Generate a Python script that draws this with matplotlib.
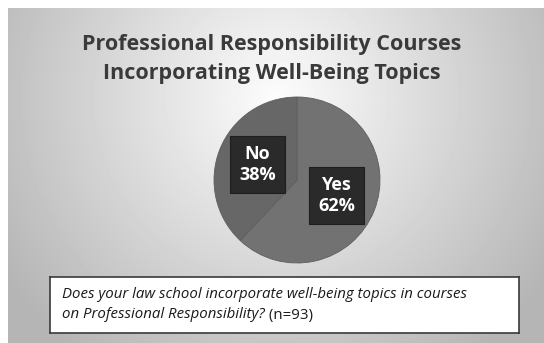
import matplotlib.pyplot as plt
import numpy as np

# survey answers
answers = ["Yes", "No"]
shares = [62, 38]
title = "Professional Responsibility Courses\nIncorporating Well-Being Topics"
question_lines = ["Does your law school incorporate well-being topics in courses",
                  "on Professional Responsibility?"]
sample_note = "(n=93)"

W, H = 544, 343
fig = plt.figure(figsize=(W / 100, H / 100), dpi=100)
fig.patch.set_facecolor("white")

# grey panel with a soft radial glow behind the title
bg = fig.add_axes([8 / W, 0, 1 - 8 / W, 1 - 8 / H])
yy, xx = np.mgrid[0:335, 0:536]
d = np.sqrt(((xx - 268) / 300.0) ** 2 + ((yy - 90) / 300.0) ** 2)
shade = np.clip(0.99 - 0.26 * d, 0.71, 0.99)
bg.imshow(shade, cmap="gray", vmin=0, vmax=1, aspect="auto", interpolation="bilinear")
bg.axis("off")

fig.text(272 / W, 1 - 59 / H, title, ha="center", va="center", fontsize=15.5,
         fontweight="bold", family="Open Sans", color="#3a3a3a", linespacing=1.5)

# the pie itself
cx, cy, r = 297, 180, 83
pie_ax = fig.add_axes([(cx - r) / W, 1 - (cy + r) / H, 2 * r / W, 2 * r / H])
pie_ax.set_facecolor("none")

def fmt(pct):
    return ""

wedges, labels, pcts = pie_ax.pie(shares, labels=None, startangle=90, counterclock=False,
                                  colors=["#727272", "#676767"], autopct=fmt,
                                  pctdistance=0.51,
                                  wedgeprops=dict(edgecolor="#5e5e5e", linewidth=0.6))
for t, name, val in zip(pcts, answers, shares):
    t.set_text(f"{name}\n{val}%")
    t.set_fontsize(13)
    t.set_fontweight("bold")
    t.set_family("Open Sans")
    t.set_color("white")
    t.set_linespacing(1.25)
    t.set_bbox(dict(boxstyle="square,pad=0.5", facecolor="#2a2a2a", edgecolor="#1e1e1e",
                    linewidth=0.8))
pie_ax.set_aspect("equal")
pie_ax.set_xlim(-1, 1)
pie_ax.set_ylim(-1, 1)
pie_ax.axis("off")

# question box
box_ax = fig.add_axes([50 / W, 1 - 333 / H, (519 - 50) / W, (333 - 277) / H])
box_ax.set_xticks([])
box_ax.set_yticks([])
box_ax.set_facecolor("white")
for s in box_ax.spines.values():
    s.set_color("#3a3a3a")
    s.set_linewidth(1.2)

q1 = box_ax.text(12 / 469, 1 - 17 / 56, question_lines[0], transform=box_ax.transAxes,
                 ha="left", va="center", fontsize=10.8, style="italic",
                 family="Open Sans", color="#1a1a1a")
q2 = box_ax.text(12 / 469, 1 - 38 / 56, question_lines[1], transform=box_ax.transAxes,
                 ha="left", va="center", fontsize=10.8, style="italic",
                 family="Open Sans", color="#1a1a1a")
box_ax.annotate(" " + sample_note, xy=(1, 0.5), xycoords=q2, ha="left", va="center",
                fontsize=10.8, family="Open Sans", color="#1a1a1a")

fig.savefig("out.png", dpi=100)
